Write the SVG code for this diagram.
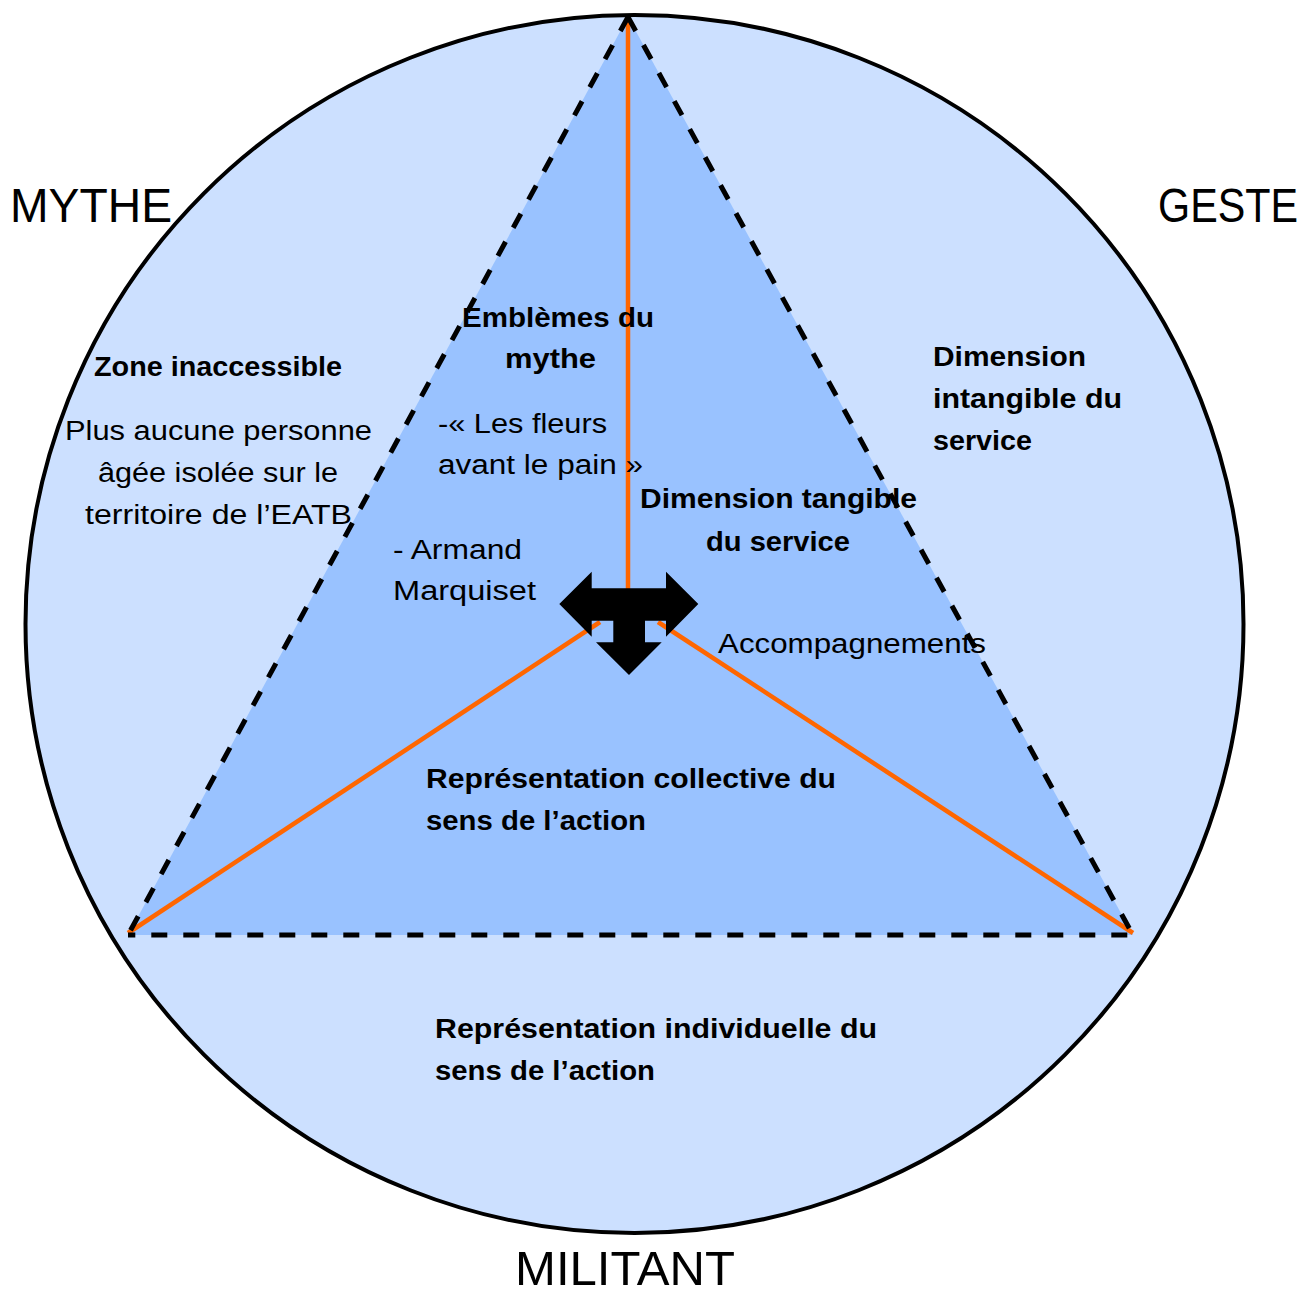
<svg xmlns="http://www.w3.org/2000/svg" width="1316" height="1289" viewBox="0 0 1316 1289">
<style>
text{font-family:"Liberation Sans","DejaVu Sans",sans-serif;font-size:27px;fill:#000}
.b{font-weight:bold}
.big{font-size:48px}
.dash{stroke:#000;stroke-width:5;stroke-dasharray:16 16;fill:none}
.or{stroke:#FF6600;stroke-width:4.5;fill:none}
</style>
<rect width="1316" height="1289" fill="#fff"/>
<g id="circle"><circle cx="634.5" cy="624" r="609" fill="#CCE0FF" stroke="#000" stroke-width="4"/></g>
<g id="triangle"><polygon points="628,17 128,935 1133,935" fill="#99C2FF"/></g>
<g id="connectors">
<line class="or" x1="628" y1="17" x2="628" y2="600"/>
<line class="or" x1="128" y1="933" x2="600" y2="622"/>
<line class="or" x1="1133" y1="933" x2="658" y2="622"/>
<line class="dash" x1="628" y1="17" x2="128" y2="935"/>
<line class="dash" x1="628" y1="17" x2="1133" y2="935"/>
<line class="dash" x1="128" y1="935" x2="1133" y2="935" stroke-dashoffset="8.7"/>
</g>
<g id="arrow"><polygon points="559.3,604 591.7,571.7 591.7,588.3 666,588.3 666,571.7 698.3,604 666,636.7 666,620.7 645,620.7 645,642.3 661.7,642.3 629,675 596,642.3 613.3,642.3 613.3,620.7 591.7,620.7 591.7,636.7" fill="#000"/></g>
<g id="mythe"><text class="big" x="10" y="222" textLength="162" lengthAdjust="spacingAndGlyphs">MYTHE</text></g>
<g id="geste"><text class="big" x="1158" y="222" textLength="140" lengthAdjust="spacingAndGlyphs">GESTE</text></g>
<g id="militant"><text class="big" x="515" y="1285" textLength="220" lengthAdjust="spacingAndGlyphs">MILITANT</text></g>
<g id="emblemes">
<text class="b" x="462" y="327" textLength="192" lengthAdjust="spacingAndGlyphs">Emblèmes du</text>
<text class="b" x="505" y="368" textLength="91" lengthAdjust="spacingAndGlyphs">mythe</text>
<text x="438" y="433" textLength="169" lengthAdjust="spacingAndGlyphs">-« Les fleurs</text>
<text x="438" y="474" textLength="205" lengthAdjust="spacingAndGlyphs">avant le pain »</text>
<text x="393" y="559" textLength="129" lengthAdjust="spacingAndGlyphs">- Armand</text>
<text x="393" y="600" textLength="143" lengthAdjust="spacingAndGlyphs">Marquiset</text>
</g>
<g id="zone">
<text class="b" x="94" y="376" textLength="248" lengthAdjust="spacingAndGlyphs">Zone inaccessible</text>
<text x="65" y="440" textLength="307" lengthAdjust="spacingAndGlyphs">Plus aucune personne</text>
<text x="98" y="482" textLength="240" lengthAdjust="spacingAndGlyphs">âgée isolée sur le</text>
<text x="85" y="524" textLength="267" lengthAdjust="spacingAndGlyphs">territoire de l’EATB</text>
</g>
<g id="tangible">
<text class="b" x="640" y="508" textLength="277" lengthAdjust="spacingAndGlyphs">Dimension tangible</text>
<text class="b" x="706" y="551" textLength="144" lengthAdjust="spacingAndGlyphs">du service</text>
<text x="718" y="653" textLength="268" lengthAdjust="spacingAndGlyphs">Accompagnements</text>
</g>
<g id="intangible">
<text class="b" x="933" y="366" textLength="153" lengthAdjust="spacingAndGlyphs">Dimension</text>
<text class="b" x="933" y="408" textLength="189" lengthAdjust="spacingAndGlyphs">intangible du</text>
<text class="b" x="933" y="450" textLength="99" lengthAdjust="spacingAndGlyphs">service</text>
</g>
<g id="collective">
<text class="b" x="426" y="788" textLength="410" lengthAdjust="spacingAndGlyphs">Représentation collective du</text>
<text class="b" x="426" y="830" textLength="220" lengthAdjust="spacingAndGlyphs">sens de l’action</text>
</g>
<g id="individuelle">
<text class="b" x="435" y="1038" textLength="442" lengthAdjust="spacingAndGlyphs">Représentation individuelle du</text>
<text class="b" x="435" y="1080" textLength="220" lengthAdjust="spacingAndGlyphs">sens de l’action</text>
</g>
</svg>
